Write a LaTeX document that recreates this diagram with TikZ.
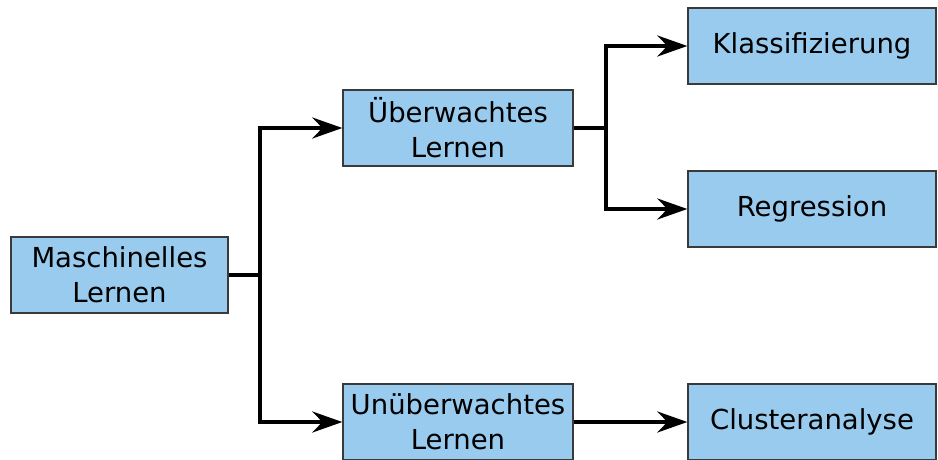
\documentclass[tikz,border=0pt]{standalone}
\usepackage{fontspec}
\setmainfont{DejaVu Sans}
\usetikzlibrary{arrows.meta}
\definecolor{boxblue}{HTML}{99CBEE}
\definecolor{boxedge}{HTML}{3A3A3A}
\tikzset{
  box/.style={draw=boxedge, line width=1.3pt, fill=boxblue, rectangle, align=center,
    minimum height=76pt, inner sep=2pt, font=\fontsize{27.5}{35}\selectfont},
  conn/.style={line width=3.5pt, draw=black},
  arr/.style={conn, -{Stealth[length=30pt,width=21pt,inset=10pt]}}
}
\begin{document}
\begin{tikzpicture}[x=1pt,y=-1pt]
\useasboundingbox (0,0) rectangle (938,459);
\node[box, minimum width=217pt] (ml) at (119.5,275) {Maschinelles\\Lernen};
\node[box, minimum width=230pt] (ue) at (458,128) {Überwachtes\\Lernen};
\node[box, minimum width=230pt] (un) at (458,422) {Unüberwachtes\\Lernen};
\node[box, minimum width=248pt] (kl) at (812,46) {Klassifizierung};
\node[box, minimum width=248pt] (re) at (812,209) {Regression};
\node[box, minimum width=248pt] (cl) at (812,422) {Clusteranalyse};
\coordinate (j1) at (260,275);
\coordinate (j2) at (606,128);
\draw[conn] (ml.east) -- (j1);
\draw[arr] (j1) |- (ue.west);
\draw[arr] (j1) |- (un.west);
\draw[conn] (ue.east) -- (j2);
\draw[arr] (j2) |- (kl.west);
\draw[arr] (j2) |- (re.west);
\draw[arr] (un.east) -- (cl.west);
\end{tikzpicture}
\end{document}
